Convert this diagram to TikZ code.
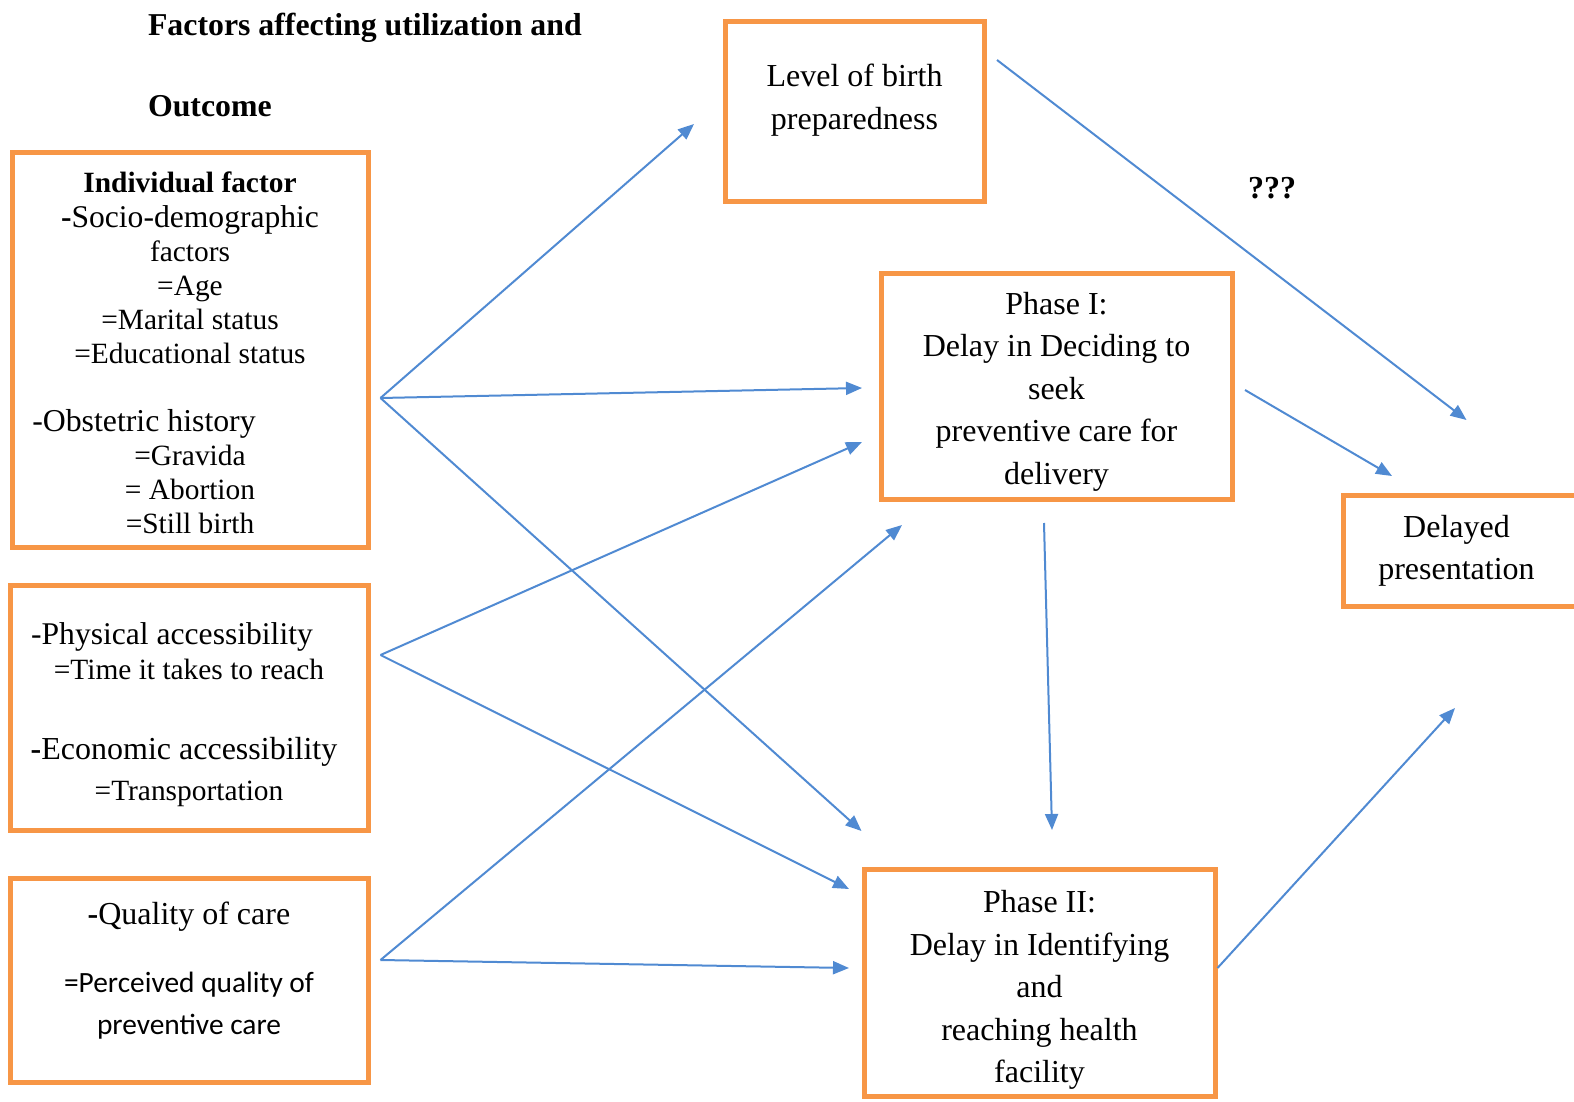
\documentclass[tikz,border=0pt]{standalone}
\usepackage{fontspec}
\setmainfont{Liberation Serif}
\setsansfont{Carlito}
\usetikzlibrary{arrows.meta}
\definecolor{boxorange}{RGB}{247,150,70}
\definecolor{arrowblue}{RGB}{80,138,210}
\tikzset{>={Triangle[length=8pt,width=6.5pt]}}
\tikzset{factorbox/.style={draw=boxorange,line width=2.5pt,inner sep=0pt,align=center},
  link/.style={->,draw=arrowblue,line width=1pt}}

\begin{document}
\begin{tikzpicture}[x=0.5pt,y=-0.5pt]
\useasboundingbox (0,0) rectangle (1574,1102);
\node[anchor=west,align=left,font=\bfseries\fontsize{15.9}{40.5}\selectfont] (title) at (141,65) {Factors affecting utilization and\\Outcome};
\node[factorbox,minimum width=178pt,minimum height=197pt,font=\fontsize{14.7}{17.05}\selectfont] (indiv) at (190,350)
  {\mbox{}\\[-3.5pt]
   \textbf{Individual factor}\\
   {\fontsize{15.8}{17.05}\selectfont\textbf{-}Socio-demographic}\\
   factors\\ =Age\\ =Marital status\\ =Educational status\\[17.05pt]
   \mbox{\fontsize{15.9}{17.05}\selectfont -Obstetric history\hspace{46pt}}\\
   =Gravida\\ = Abortion\\ =Still birth};
\node[factorbox,minimum width=179pt,minimum height=122.5pt,font=\fontsize{14.7}{17.5}\selectfont] (access) at (189,707.5)
  {\mbox{}\\[0.5pt]
   \mbox{\fontsize{15.8}{17.5}\selectfont -Physical accessibility\hspace{17pt}}\\
   =Time it takes to reach\\[22.5pt]
   \mbox{\fontsize{16}{17.5}\selectfont\textbf{-}Economic accessibility\hspace{5pt}}\\[3pt]
   =Transportation};
\node[factorbox,minimum width=179pt,minimum height=102pt,font=\sffamily\fontsize{14.7}{21}\selectfont] (quality) at (189,980)
  {{\rmfamily\fontsize{16}{21}\selectfont\textbf{-}Quality of care}\\[13pt]
   =Perceived quality of\\ preventive care\\[-8.8pt]\mbox{}};
\node[factorbox,minimum width=129.5pt,minimum height=89.5pt,font=\fontsize{16}{21.5}\selectfont] (birth) at (854.5,111.5)
  {Level of birth\\ preparedness\\[-7pt]\mbox{}};
\node[factorbox,minimum width=175.5pt,minimum height=113pt,font=\fontsize{16}{21.25}\selectfont] (phaseone) at (1056.5,386)
  {\mbox{}\\[-4.75pt]
   Phase I:\\ Delay in Deciding to\\ seek\\ preventive care for\\ delivery};
\node[factorbox,minimum width=175.5pt,minimum height=113.5pt,font=\fontsize{16}{21.25}\selectfont] (phasetwo) at (1039.5,982.5)
  {\mbox{}\\[-2.75pt]
   Phase II:\\ Delay in Identifying\\ and\\ reaching health\\ facility};
\node[factorbox,minimum width=123.5pt,minimum height=55.5pt,font=\fontsize{16}{21}\selectfont] (delayed) at (1466.5,550.5)
  {\mbox{Delayed\hspace{10pt}}\\ \mbox{presentation\hspace{10pt}}};
\node[font=\bfseries\fontsize{16}{18}\selectfont] (unknown) at (1272,188) {???};

\coordinate (hubA) at ([xshift=5pt,yshift=-24pt]indiv.east);
\coordinate (hubB) at ([xshift=5pt,yshift=26.25pt]access.east);
\coordinate (hubC) at ([xshift=5pt,yshift=10pt]quality.east);

\draw[link] (hubA) -- ([xshift=-14.25pt,yshift=-6.25pt]birth.west);
\draw[link] (hubA) -- ([xshift=-8.25pt,yshift=-1pt]phaseone.west);
\draw[link] (hubA) -- ([yshift=17.75pt]phasetwo.north west);
\draw[link] (hubB) -- ([xshift=-8.25pt,yshift=-28pt]phaseone.west);
\draw[link] (hubB) -- ([xshift=-6.25pt,yshift=-11.25pt]phasetwo.north west);
\draw[link] (hubC) -- ([xshift=11.75pt,yshift=-11.75pt]phaseone.south west);
\draw[link] (hubC) -- ([xshift=-6.25pt,yshift=7.25pt]phasetwo.west);
\draw[link] ([xshift=5.25pt,yshift=-20.25pt]birth.north east) -- ([yshift=36.25pt]delayed.north);
\draw[link] ([xshift=5.25pt,yshift=-2pt]phaseone.east) -- ([xshift=25.75pt,yshift=8.25pt]delayed.north west);
\draw[link] ([xshift=-6.25pt,yshift=-10.75pt]phaseone.south) -- ([xshift=6.25pt,yshift=18.25pt]phasetwo.north);
\draw[link] ([yshift=7.25pt]phasetwo.east) -- ([xshift=-5.75pt,yshift=-49.75pt]delayed.south);
\end{tikzpicture}
\end{document}
